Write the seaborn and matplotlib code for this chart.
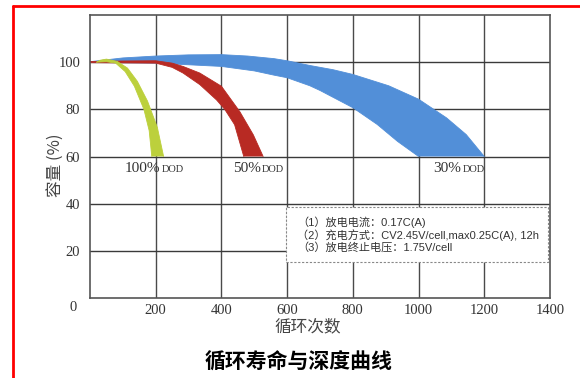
import matplotlib
matplotlib.use('Agg')
import matplotlib.pyplot as plt
import seaborn as sns
from matplotlib.lines import Line2D
from matplotlib.patches import Rectangle

sns.set_theme(style='white')
plt.rcParams['font.family'] = ['Liberation Serif', 'Noto Sans CJK SC', 'DejaVu Sans']
plt.rcParams['axes.unicode_minus'] = False

# 30% DOD band (blue)
dod30_up_x = [0, 100, 200, 300, 400, 480, 560, 600, 669, 740, 800, 909, 1000, 1085, 1145, 1200]
dod30_up_y = [100.2, 101.8, 102.6, 103.1, 103.2, 102.6, 101.5, 100.6, 98.6, 96.8, 94.8, 90.0, 84.3, 76.4, 69.3, 60]
dod30_lo_x = [0, 200, 400, 500, 560, 600, 669, 700, 800, 874, 936, 1000]
dod30_lo_y = [99.9, 99.6, 98.2, 96.3, 94.5, 93.4, 90.0, 88.0, 80.7, 73.6, 66.4, 60]

# 50% DOD band (red)
dod50_up_x = [0, 100, 200, 250, 283, 334, 400, 456, 497, 527]
dod50_up_y = [100.3, 100.5, 100.6, 99.6, 98.2, 95.4, 89.8, 79.0, 69.2, 60]
dod50_lo_x = [0, 100, 200, 250, 283, 334, 385, 410, 440, 468]
dod50_lo_y = [99.8, 99.7, 99.6, 97.8, 95.4, 90.5, 84.0, 80.0, 73.5, 60]

# 100% DOD band (green)
dod100_up_x = [20, 30, 50, 83, 114, 144, 175, 205, 224]
dod100_up_y = [100, 100.8, 101.3, 100.3, 97.5, 91.9, 83.5, 72.3, 60]
dod100_lo_x = [20, 50, 78, 107, 135, 164, 180, 188]
dod100_lo_y = [100, 100.2, 99.6, 96.0, 89.8, 80.0, 71.0, 60]

bands = [
    (dod30_up_x, dod30_up_y, dod30_lo_x, dod30_lo_y, '#528fd8'),
    (dod50_up_x, dod50_up_y, dod50_lo_x, dod50_lo_y, '#b82a23'),
    (dod100_up_x, dod100_up_y, dod100_lo_x, dod100_lo_y, '#bcd03c'),
]

dod_labels = [('100%', 'DOD', 213), ('50%', 'DOD', 520), ('30%', 'DOD', 1129)]

x_ticks = [200, 400, 600, 800, 1000, 1200, 1400]
y_ticks = [20, 40, 60, 80, 100]
grid_x = [200, 400, 600, 800, 1000, 1200]
grid_y = [20, 40, 60, 80, 100]

notes = ['（1）放电电流：0.17C(A)',
         '（2）充电方式：CV2.45V/cell,max0.25C(A), 12h',
         '（3）放电终止电压：1.75V/cell']

fig = plt.figure(figsize=(5.8, 3.78), dpi=100)
ax = fig.add_axes([0.1552, 0.2116, 0.7931, 0.7487])
ax.set_xlim(0, 1400)
ax.set_ylim(0, 120)

for gx in grid_x:
    ax.axvline(gx, color='#4a4a4a', lw=1.0, zorder=1)
for gy in grid_y:
    ax.axhline(gy, color='#3a3a3a', lw=1.0, zorder=1)

for ux, uy, lx, ly, col in bands:
    px = list(ux) + list(lx)[::-1]
    py = list(uy) + list(ly)[::-1]
    ax.fill(px, py, color=col, lw=0, zorder=3)
    sns.lineplot(x=ux, y=uy, color=col, lw=0.6, sort=False, ax=ax, zorder=3)
    sns.lineplot(x=lx, y=ly, color=col, lw=0.6, sort=False, ax=ax, zorder=3)

for big, small, xj in dod_labels:
    ax.text(xj, 53.5, big, ha='right', va='baseline', fontsize=11,
            color='#333333', family='Liberation Serif', zorder=5)
    ax.text(xj + 4, 53.5, small, ha='left', va='baseline', fontsize=7.5,
            color='#333333', family='Liberation Serif', zorder=5)

# note box
ax.add_patch(Rectangle((597, 15.2), 797, 23.3, facecolor='white',
                       edgecolor='#888888', lw=0.8, ls=(0, (2, 1.5)), zorder=4))
for i, line in enumerate(notes):
    ax.text(630, 32.1 - i * 5.4, line, ha='left', va='center', fontsize=8,
            color='#333333', family=['Liberation Sans', 'Noto Sans CJK SC'], zorder=5)

ax.set_xticks(x_ticks)
ax.set_yticks(y_ticks)
ax.set_xticklabels([str(v) for v in x_ticks], fontsize=10.5, color='#333333')
ax.set_yticklabels([str(v) for v in y_ticks], fontsize=10.5, color='#333333')
ax.tick_params(axis='both', length=0)
ax.tick_params(axis='x', pad=4)
ax.tick_params(axis='y', pad=7)
ax.text(-0.028, -0.032, '0', transform=ax.transAxes, ha='right', va='center',
        fontsize=10.5, color='#333333')

for sp in ax.spines.values():
    sp.set_color('#555555')
    sp.set_linewidth(1.2)
    sp.set_zorder(6)

ax.set_xlabel('循环次数', fontsize=12, color='#444444', family=['Noto Sans CJK SC'])
ax.xaxis.set_label_coords(0.474, -0.1025)
ax.xaxis.label.set_va('center')
ax.set_ylabel('容量 (%)', fontsize=12, color='#444444',
              family=['Noto Sans CJK SC', 'Liberation Serif'])
ax.yaxis.set_label_coords(-0.076, 0.47)
ax.yaxis.label.set_va('center')

fig.text(0.514, 0.042, '循环寿命与深度曲线', ha='center', va='center',
         fontsize=15, fontweight='bold', color='black', family=['Noto Sans CJK SC'])

# red frame lines
fig.add_artist(Line2D([0.0224, 0.0224], [0.0, 0.984], color='red', lw=2,
                      transform=fig.transFigure))
fig.add_artist(Line2D([0.0224, 1.0], [0.984, 0.984], color='red', lw=2,
                      transform=fig.transFigure))

fig.savefig('out.png', dpi=100)
